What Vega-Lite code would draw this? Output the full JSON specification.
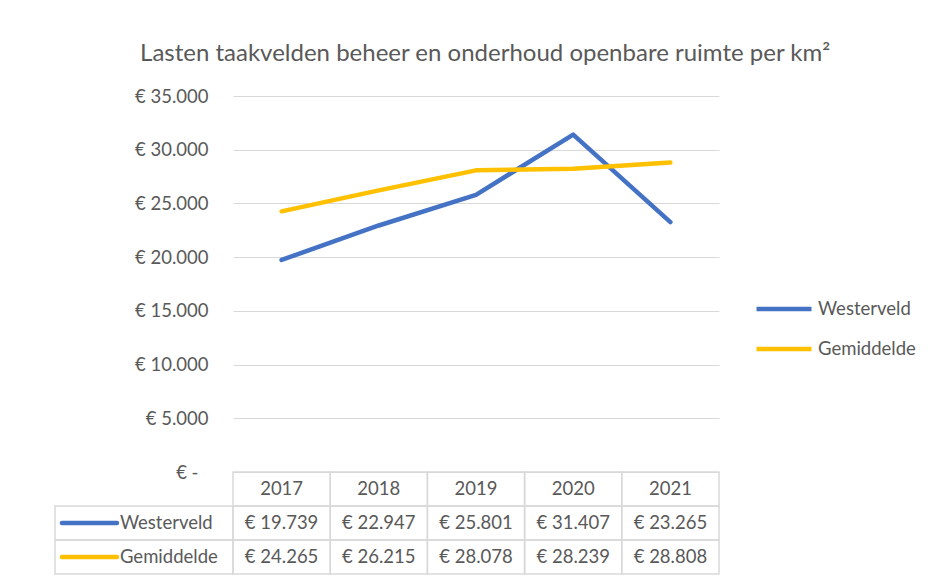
{
  "$schema": "https://vega.github.io/schema/vega-lite/v6.json",
  "padding": {"left": 54, "top": 42, "right": 0, "bottom": 0},
  "background": "white",
  "config": {
    "font": "Lato",
    "view": {"stroke": null},
    "locale": {"number": {"decimal": ",", "thousands": ".", "grouping": [3], "currency": ["€ ", ""]}},
    "text": {"fontSize": 18.5, "fill": "#595959"}
  },
  "datasets": {
    "kosten": [
      {"year": "2017", "series": "Westerveld", "value": 19739},
      {"year": "2018", "series": "Westerveld", "value": 22947},
      {"year": "2019", "series": "Westerveld", "value": 25801},
      {"year": "2020", "series": "Westerveld", "value": 31407},
      {"year": "2021", "series": "Westerveld", "value": 23265},
      {"year": "2017", "series": "Gemiddelde", "value": 24265},
      {"year": "2018", "series": "Gemiddelde", "value": 26215},
      {"year": "2019", "series": "Gemiddelde", "value": 28078},
      {"year": "2020", "series": "Gemiddelde", "value": 28239},
      {"year": "2021", "series": "Gemiddelde", "value": 28808}
    ]
  },
  "title": {
    "text": "Lasten taakvelden beheer en onderhoud openbare ruimte per km²",
    "fontSize": 24,
    "fontWeight": "normal",
    "color": "#595959",
    "anchor": "middle",
    "baseline": "alphabetic",
    "dx": 0,
    "offset": 2
  },
  "columns": 2,
  "spacing": 0,
  "bounds": "flush",
  "resolve": {"scale": {"x": "independent", "y": "independent", "color": "independent"}, "legend": {"color": "independent"}},
  "concat": [
    {
      "width": 178,
      "height": 376,
      "data": {"values": [{}]},
      "mark": {"type": "text", "text": ""}
    },
    {
      "width": 486,
      "height": 376,
      "data": {"name": "kosten"},
      "mark": {"type": "line", "strokeWidth": 4.5, "strokeCap": "round", "strokeJoin": "round"},
      "encoding": {
        "x": {"field": "year", "type": "ordinal", "scale": {"type": "point", "padding": 0.5}, "axis": null},
        "y": {
          "field": "value", "type": "quantitative",
          "scale": {"domain": [0, 35000], "nice": false},
          "axis": {
            "values": [0, 5000, 10000, 15000, 20000, 25000, 30000, 35000],
            "format": "$,.0f",
            "labelExpr": "datum.value === 0 ? '€ -' : datum.label",
            "title": null,
            "domain": false,
            "ticks": false,
            "tickSize": 0,
            "labelPadding": {"condition": {"test": "datum.value === 0", "value": 35}, "value": 25},
            "labelFontSize": 18.5,
            "labelColor": "#595959",
            "gridColor": "#d9d9d9",
            "gridWidth": 1.2
          }
        },
        "color": {
          "field": "series", "type": "nominal",
          "scale": {"domain": ["Westerveld", "Gemiddelde"], "range": ["#4472C4", "#FFC000"]},
          "legend": {
            "title": null,
            "orient": "none",
            "legendX": 521,
            "legendY": 183,
            "symbolType": "stroke",
            "symbolSize": 3025,
            "symbolStrokeWidth": 4.5,
            "labelFontSize": 18.5,
            "labelColor": "#595959",
            "labelOffset": 4,
            "rowPadding": -5,
            "padding": 0
          }
        }
      }
    },
    {
      "width": 178,
      "height": 102,
      "data": {"name": "kosten"},
      "transform": [{"aggregate": [{"op": "count", "as": "n"}], "groupby": ["series"]}],
      "encoding": {
        "y": {"field": "series", "type": "nominal", "scale": {"domain": ["header", "Westerveld", "Gemiddelde"], "paddingInner": 0, "paddingOuter": 0}, "axis": null}
      },
      "layer": [
        {
          "mark": {"type": "rect", "fillOpacity": 0, "stroke": "#d9d9d9", "strokeWidth": 1.5},
          "encoding": {
            "x": {"datum": 0, "type": "quantitative", "scale": {"domain": [0, 1]}, "axis": null},
            "x2": {"datum": 1}
          }
        },
        {
          "mark": {"type": "rule", "strokeWidth": 4.5, "strokeCap": "round"},
          "encoding": {
            "x": {"datum": 0.039, "type": "quantitative", "scale": {"domain": [0, 1]}, "axis": null},
            "x2": {"datum": 0.348},
            "y": {"field": "series", "type": "nominal", "bandPosition": 0.5, "scale": {"domain": ["header", "Westerveld", "Gemiddelde"], "paddingInner": 0, "paddingOuter": 0}, "axis": null},
            "color": {"field": "series", "type": "nominal", "scale": {"domain": ["Westerveld", "Gemiddelde"], "range": ["#4472C4", "#FFC000"]}, "legend": null}
          }
        },
        {
          "mark": {"type": "text", "align": "left", "baseline": "middle"},
          "encoding": {
            "x": {"datum": 0.365, "type": "quantitative", "scale": {"domain": [0, 1]}, "axis": null},
            "text": {"field": "series", "type": "nominal"}
          }
        }
      ]
    },
    {
      "width": 486,
      "height": 102,
      "data": {"name": "kosten"},
      "encoding": {
        "x": {"field": "year", "type": "ordinal", "scale": {"type": "band", "paddingInner": 0, "paddingOuter": 0}, "axis": null}
      },
      "layer": [
        {
          "mark": {"type": "rect", "fillOpacity": 0, "stroke": "#d9d9d9", "strokeWidth": 1.5},
          "encoding": {
            "y": {"field": "series", "type": "nominal", "scale": {"domain": ["header", "Westerveld", "Gemiddelde"], "paddingInner": 0, "paddingOuter": 0}, "axis": null}
          }
        },
        {
          "mark": {"type": "text", "baseline": "middle"},
          "encoding": {
            "y": {"field": "series", "type": "nominal", "scale": {"domain": ["header", "Westerveld", "Gemiddelde"], "paddingInner": 0, "paddingOuter": 0}, "axis": null},
            "text": {"field": "value", "type": "quantitative", "format": "$,.0f"}
          }
        },
        {
          "transform": [{"aggregate": [{"op": "count", "as": "n"}], "groupby": ["year"]}],
          "layer": [
            {
              "mark": {"type": "rect", "fillOpacity": 0, "stroke": "#d9d9d9", "strokeWidth": 1.5},
              "encoding": {
                "y": {"datum": "header", "type": "nominal", "scale": {"domain": ["header", "Westerveld", "Gemiddelde"], "paddingInner": 0, "paddingOuter": 0}, "axis": null}
              }
            },
            {
              "mark": {"type": "text", "baseline": "middle"},
              "encoding": {
                "y": {"datum": "header", "type": "nominal", "scale": {"domain": ["header", "Westerveld", "Gemiddelde"], "paddingInner": 0, "paddingOuter": 0}, "axis": null},
                "text": {"field": "year", "type": "nominal"}
              }
            }
          ]
        }
      ]
    }
  ]
}
